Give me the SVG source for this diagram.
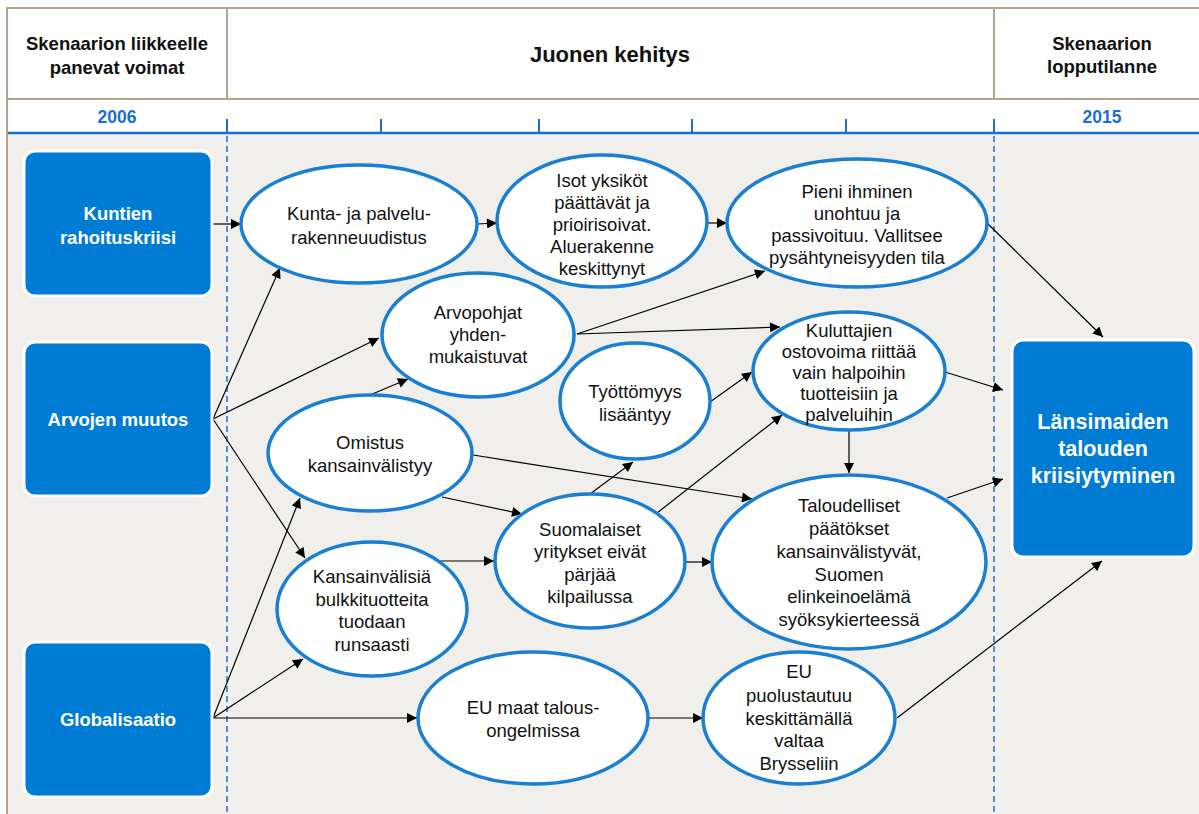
<svg xmlns="http://www.w3.org/2000/svg" width="1199" height="814" viewBox="0 0 1199 814">
<defs>
<marker id="ah" viewBox="0 0 10 10" refX="10" refY="5" markerWidth="11" markerHeight="10" markerUnits="userSpaceOnUse" orient="auto">
<path d="M0,0 L10,5 L0,10 Z" fill="#000"/>
</marker>
</defs>
<style>
.hdr{font-family:"Liberation Sans",Arial,sans-serif;font-weight:bold;font-size:18.5px;fill:#111;text-anchor:middle}
.yr{font-family:"Liberation Sans",Arial,sans-serif;font-weight:bold;font-size:17.5px;fill:#1a6fce;text-anchor:middle}
.box{fill:#007cd4;stroke:#fff;stroke-width:3}
.bt{font-family:"Liberation Sans",Arial,sans-serif;font-weight:bold;font-size:18.5px;fill:#fff;text-anchor:middle}
.bt2{font-family:"Liberation Sans",Arial,sans-serif;font-weight:bold;font-size:21.5px;fill:#fff;text-anchor:middle}
.el{fill:#fff;stroke:#1a7fd0;stroke-width:3.5}
.et{font-family:"Liberation Sans",Arial,sans-serif;font-size:18.5px;fill:#111;text-anchor:middle}
.c line{stroke:#000;stroke-width:1.2;marker-end:url(#ah)}
.tan{stroke:#b5a58c;stroke-width:2;fill:none}
.tick{stroke:#1a6fce;stroke-width:2}
.dash{stroke:#1a6fce;stroke-width:1.5;stroke-dasharray:6 4}
</style>
<rect x="0" y="0" width="1199" height="814" fill="#fff"/>
<rect x="8" y="134" width="1191" height="680" fill="#f0efec"/>
<g id="frame">
<path class="tan" d="M7,814 L7,8 L1199,8"/>
<line class="tan" x1="7" y1="99" x2="1199" y2="99"/>
<line class="tan" x1="227" y1="8" x2="227" y2="99"/>
<line class="tan" x1="994" y1="8" x2="994" y2="99"/>
<line x1="8" y1="133" x2="1199" y2="133" stroke="#1a6fce" stroke-width="2.5"/>
<line class="tick" x1="227" y1="119" x2="227" y2="133"/>
<line class="tick" x1="381" y1="119" x2="381" y2="133"/>
<line class="tick" x1="539" y1="119" x2="539" y2="133"/>
<line class="tick" x1="692" y1="119" x2="692" y2="133"/>
<line class="tick" x1="846" y1="119" x2="846" y2="133"/>
<line class="tick" x1="994" y1="119" x2="994" y2="133"/>
<line class="dash" x1="227" y1="136" x2="227" y2="814"/>
<line class="dash" x1="994" y1="136" x2="994" y2="814"/>
<text class="hdr" x="117" y="50">Skenaarion liikkeelle</text>
<text class="hdr" x="117" y="74">panevat voimat</text>
<text class="hdr" x="610" y="62" style="font-size:22px">Juonen kehitys</text>
<text class="hdr" x="1102" y="50">Skenaarion</text>
<text class="hdr" x="1102" y="73">lopputilanne</text>
<text class="yr" x="117" y="123">2006</text>
<text class="yr" x="1102" y="123">2015</text>
</g>
<g class="c" id="connectors">
<line x1="211" y1="224" x2="241" y2="224"/>
<line x1="477" y1="224" x2="497" y2="223"/>
<line x1="708" y1="223" x2="727" y2="223"/>
<line x1="987" y1="223" x2="1103" y2="337"/>
<line x1="213" y1="419" x2="280" y2="268"/>
<line x1="213" y1="419" x2="379" y2="338"/>
<line x1="213" y1="419" x2="305" y2="558"/>
<line x1="370" y1="395" x2="408" y2="379"/>
<line x1="577" y1="334" x2="765" y2="271"/>
<line x1="577" y1="334" x2="780" y2="327"/>
<line x1="710" y1="402" x2="752" y2="372"/>
<line x1="590" y1="494" x2="633" y2="462"/>
<line x1="657" y1="513" x2="782" y2="415"/>
<line x1="473" y1="455" x2="752" y2="499"/>
<line x1="442" y1="497" x2="522" y2="514"/>
<line x1="440" y1="561" x2="494" y2="561"/>
<line x1="686" y1="562" x2="712" y2="562"/>
<line x1="849" y1="430" x2="849" y2="473"/>
<line x1="945" y1="372" x2="1003" y2="390"/>
<line x1="947" y1="498" x2="1003" y2="479"/>
<line x1="897" y1="718" x2="1102" y2="561"/>
<line x1="213" y1="718" x2="300" y2="498"/>
<line x1="213" y1="718" x2="303" y2="659"/>
<line x1="213" y1="718" x2="417" y2="718"/>
<line x1="648" y1="718" x2="703" y2="718"/>
</g>
<g id="n-kuntien">
<rect class="box" x="24" y="151" width="188" height="145" rx="11"/>
<text class="bt" x="118" y="220">Kuntien</text>
<text class="bt" x="118" y="244">rahoituskriisi</text>
</g>
<g id="n-arvojen">
<rect class="box" x="24" y="342" width="188" height="154" rx="11"/>
<text class="bt" x="118" y="426">Arvojen muutos</text>
</g>
<g id="n-globalisaatio">
<rect class="box" x="24" y="642" width="188" height="155" rx="11"/>
<text class="bt" x="118" y="726">Globalisaatio</text>
</g>
<g id="n-lansimaiden">
<rect class="box" x="1012" y="340" width="182" height="217" rx="11"/>
<text class="bt2" x="1103" y="429">Länsimaiden</text>
<text class="bt2" x="1103" y="456">talouden</text>
<text class="bt2" x="1103" y="483">kriisiytyminen</text>
</g>
<g id="n-kunta">
<ellipse class="el" cx="359" cy="224" rx="118" ry="59"/>
<text class="et" x="359" y="220">Kunta- ja palvelu-</text>
<text class="et" x="359" y="244">rakenneuudistus</text>
</g>
<g id="n-isot">
<ellipse class="el" cx="602" cy="221" rx="105" ry="66"/>
<text class="et" x="602" y="187">Isot yksiköt</text>
<text class="et" x="602" y="209">päättävät ja</text>
<text class="et" x="602" y="231">prioirisoivat.</text>
<text class="et" x="602" y="253">Aluerakenne</text>
<text class="et" x="602" y="275">keskittynyt</text>
</g>
<g id="n-pieni">
<ellipse class="el" cx="857" cy="223" rx="130" ry="64"/>
<text class="et" x="857" y="198">Pieni ihminen</text>
<text class="et" x="857" y="220">unohtuu ja</text>
<text class="et" x="857" y="242">passivoituu. Vallitsee</text>
<text class="et" x="857" y="264">pysähtyneisyyden tila</text>
</g>
<g id="n-arvopohjat">
<ellipse class="el" cx="478" cy="335" rx="96" ry="62"/>
<text class="et" x="478" y="319">Arvopohjat</text>
<text class="et" x="478" y="341">yhden-</text>
<text class="et" x="478" y="363">mukaistuvat</text>
</g>
<g id="n-kuluttajien">
<ellipse class="el" cx="849" cy="371" rx="96" ry="59"/>
<text class="et" x="849" y="337">Kuluttajien</text>
<text class="et" x="849" y="358">ostovoima riittää</text>
<text class="et" x="849" y="379">vain halpoihin</text>
<text class="et" x="849" y="400">tuotteisiin ja</text>
<text class="et" x="849" y="421">palveluihin</text>
</g>
<g id="n-tyottomyys">
<ellipse class="el" cx="635" cy="401" rx="75" ry="58"/>
<text class="et" x="635" y="398">Työttömyys</text>
<text class="et" x="635" y="421">lisääntyy</text>
</g>
<g id="n-omistus">
<ellipse class="el" cx="370" cy="453" rx="102" ry="58"/>
<text class="et" x="370" y="449">Omistus</text>
<text class="et" x="370" y="472">kansainvälistyy</text>
</g>
<g id="n-kansainvalisia">
<ellipse class="el" cx="372" cy="609" rx="95" ry="67"/>
<text class="et" x="372" y="583">Kansainvälisiä</text>
<text class="et" x="372" y="606">bulkkituotteita</text>
<text class="et" x="372" y="628">tuodaan</text>
<text class="et" x="372" y="651">runsaasti</text>
</g>
<g id="n-suomalaiset">
<ellipse class="el" cx="590" cy="561" rx="95" ry="67"/>
<text class="et" x="590" y="536">Suomalaiset</text>
<text class="et" x="590" y="558">yritykset eivät</text>
<text class="et" x="590" y="581">pärjää</text>
<text class="et" x="590" y="603">kilpailussa</text>
</g>
<g id="n-taloudelliset">
<ellipse class="el" cx="849" cy="562" rx="137" ry="87"/>
<text class="et" x="849" y="512">Taloudelliset</text>
<text class="et" x="849" y="535">päätökset</text>
<text class="et" x="849" y="558">kansainvälistyvät,</text>
<text class="et" x="849" y="581">Suomen</text>
<text class="et" x="849" y="603">elinkeinoelämä</text>
<text class="et" x="849" y="626">syöksykierteessä</text>
</g>
<g id="n-eumaat">
<ellipse class="el" cx="533" cy="718" rx="115" ry="66"/>
<text class="et" x="533" y="714">EU maat talous-</text>
<text class="et" x="533" y="737">ongelmissa</text>
</g>
<g id="n-eupuolustautuu">
<ellipse class="el" cx="799" cy="718" rx="96" ry="66"/>
<text class="et" x="799" y="678">EU</text>
<text class="et" x="799" y="702">puolustautuu</text>
<text class="et" x="799" y="725">keskittämällä</text>
<text class="et" x="799" y="747">valtaa</text>
<text class="et" x="799" y="770">Brysseliin</text>
</g>
</svg>
